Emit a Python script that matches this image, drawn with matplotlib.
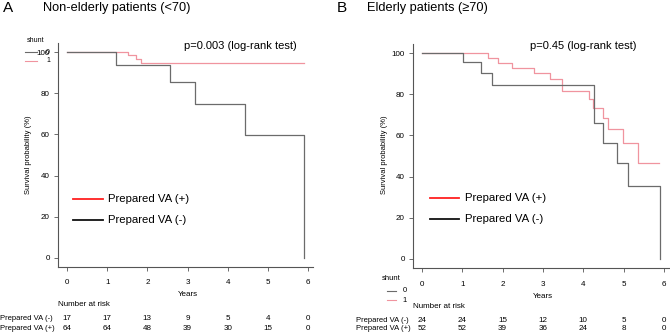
import matplotlib.pyplot as plt
from matplotlib.lines import Line2D

plt.rcParams['font.family'] = ['Liberation Sans', 'DejaVu Sans']

W, H = 670, 335

# panel A: non-elderly (<70)
a_neg_t = [0, 1.22, 2.57, 3.18, 4.42, 5.9]
a_neg_s = [100, 93.8, 85.4, 74.8, 59.5, 0]
a_pos_t = [0, 1.52, 1.72, 1.84, 5.9]
a_pos_s = [100, 98.4, 96.6, 94.7, 94.7]
a_risk_neg = [17, 17, 13, 9, 5, 4, 0]
a_risk_pos = [64, 64, 48, 39, 30, 15, 0]

# panel B: elderly (>=70)
b_neg_t = [0, 1.02, 1.46, 1.74, 4.27, 4.49, 4.84, 5.12, 5.9]
b_neg_s = [100, 95.6, 90.4, 84.6, 65.8, 56.1, 46.6, 35.4, 0]
b_pos_t = [0, 1.64, 1.89, 2.23, 2.78, 3.18, 3.47, 4.15, 4.25, 4.5, 4.62, 4.98, 5.36, 5.88]
b_pos_s = [100, 97.6, 95.3, 92.9, 90.5, 87.6, 81.8, 77.7, 73.3, 68.4, 63.0, 56.3, 46.6, 46.6]
b_risk_neg = [24, 24, 15, 12, 10, 5, 0]
b_risk_pos = [52, 52, 39, 36, 24, 8, 0]

years = [0, 1, 2, 3, 4, 5, 6]
yticks = [0, 20, 40, 60, 80, 100]

col_neg = '#6b6b6b'
col_pos = '#f0949f'

fig = plt.figure(figsize=(W / 100, H / 100), dpi=100)


def fx(x):
    return x / W


def fy(y):
    return 1 - y / H


def txt(x, y, s, **kw):
    kw.setdefault('va', 'center')
    fig.text(fx(x), fy(y), s, **kw)


def hline(x0, x1, y, c, lw=1.0):
    fig.add_artist(Line2D([fx(x0), fx(x1)], [fy(y), fy(y)], color=c, lw=lw,
                          transform=fig.transFigure))


def km_axes(left, right, top, bottom, xmax):
    ax = fig.add_axes([fx(left), fy(bottom), fx(right - left), (bottom - top) / H])
    ax.set_xlim(-0.223, xmax)
    ax.set_ylim(-4.4, 104.4)
    for s in ['top', 'right']:
        ax.spines[s].set_visible(False)
    for s in ['left', 'bottom']:
        ax.spines[s].set_color('#555555')
        ax.spines[s].set_linewidth(0.8)
    ax.set_xticks(years)
    ax.set_yticks(yticks)
    ax.tick_params(axis='both', labelsize=5.8, length=3, width=0.6, color='#555555')
    ax.tick_params(axis='x', pad=6)
    ax.tick_params(axis='y', pad=3)
    return ax


# ---- panel A
axA = km_axes(58, 313, 43, 267, 6.12)
axA.step(a_pos_t, a_pos_s, where='post', color=col_pos, lw=0.9)
axA.step(a_neg_t, a_neg_s, where='post', color=col_neg, lw=0.9)

txt(3, 8, 'A', fontsize=11)
txt(43, 8, 'Non-elderly patients (<70)', fontsize=9.2)
txt(184, 46, 'p=0.003 (log-rank test)', fontsize=8)
txt(29, 155, 'Survival probability (%)', fontsize=5.5, rotation=90, ha='center')
txt(188, 295, 'Years', fontsize=5.8, ha='center')
txt(58, 305, 'Number at risk', fontsize=5.8)
txt(0, 319, 'Prepared VA (-)', fontsize=5.5)
txt(0, 328, 'Prepared VA (+)', fontsize=5.5)
for i, yr in enumerate(years):
    xp = 67 + yr * (308 - 67) / 6
    txt(xp, 319, str(a_risk_neg[i]), fontsize=5.8, ha='center')
    txt(xp, 328, str(a_risk_pos[i]), fontsize=5.8, ha='center')

# shunt legend (A)
txt(27, 40, 'shunt', fontsize=5)
hline(25, 37, 52, col_neg, 0.8)
hline(25, 37, 61, col_pos, 0.8)
txt(50, 52, '0', fontsize=5, ha='right')
txt(50, 61, '1', fontsize=5, ha='right')

# group legend (A)
hline(73, 103, 199, '#ff2020', 1.3)
hline(73, 103, 220, '#111111', 1.3)
txt(108, 199, 'Prepared VA (+)', fontsize=8.2)
txt(108, 220, 'Prepared VA (-)', fontsize=8.2)

# ---- panel B
axB = km_axes(413, 670, 44, 268, 6.15)
axB.step(b_pos_t, b_pos_s, where='post', color=col_pos, lw=0.9)
axB.step(b_neg_t, b_neg_s, where='post', color=col_neg, lw=0.9)

txt(337, 8, 'B', fontsize=11)
txt(367, 8, 'Elderly patients (\u226570)', fontsize=9.2)
txt(530, 46, 'p=0.45 (log-rank test)', fontsize=8)
txt(384, 155, 'Survival probability (%)', fontsize=5.5, rotation=90, ha='center')
txt(543, 297, 'Years', fontsize=5.8, ha='center')
txt(413, 306, 'Number at risk', fontsize=5.8)
txt(356, 320, 'Prepared VA (-)', fontsize=5.5)
txt(356, 328, 'Prepared VA (+)', fontsize=5.5)
for i, yr in enumerate(years):
    xp = 422 + yr * (664 - 422) / 6
    txt(xp, 320, str(b_risk_neg[i]), fontsize=5.8, ha='center')
    txt(xp, 328, str(b_risk_pos[i]), fontsize=5.8, ha='center')

# shunt legend (B)
txt(382, 278, 'shunt', fontsize=5.5)
hline(387, 396, 291, col_neg, 0.8)
hline(387, 396, 300, col_pos, 0.8)
txt(405, 291, '0', fontsize=5.5, ha='center')
txt(405, 300, '1', fontsize=5.5, ha='center')

# group legend (B)
hline(430, 459, 198, '#ff2020', 1.3)
hline(430, 459, 219, '#111111', 1.3)
txt(465, 198, 'Prepared VA (+)', fontsize=8.2)
txt(465, 219, 'Prepared VA (-)', fontsize=8.2)

fig.savefig('out.png', dpi=100)
